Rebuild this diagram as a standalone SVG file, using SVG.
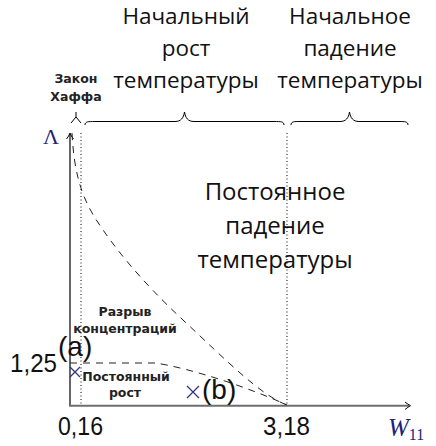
<svg xmlns="http://www.w3.org/2000/svg" width="436" height="446" viewBox="0 0 436 446">
<style>
.big{font-family:"Open Sans","Noto Sans",sans-serif;font-size:24px;fill:#111;text-anchor:middle}
.top{font-size:22.5px}
.small{font-family:"DejaVu Sans",sans-serif;font-size:12.5px;font-weight:bold;fill:#222;text-anchor:middle}
.num{font-family:"Liberation Sans",sans-serif;font-size:26px;fill:#111}
.pt{font-family:"Liberation Sans",sans-serif;font-size:28px;fill:#111}
.math{font-family:"Liberation Serif",serif;fill:#222277}
.dash{fill:none;stroke:#222;stroke-width:1;stroke-dasharray:7 6}
.dot{fill:none;stroke:#000;stroke-width:1;stroke-dasharray:1 2.5}
.brace{fill:none;stroke:#000;stroke-width:1}
.cross{stroke:#333388;stroke-width:1.3;fill:none}
.arr{fill:none;stroke:#000;stroke-width:1}
</style>
<g id="connectors">
  <line x1="81" y1="133" x2="81" y2="405" class="dot"/>
  <line x1="287" y1="133" x2="287" y2="405" class="dot"/>
  <line x1="70" y1="406" x2="70" y2="134" stroke="#000" stroke-width="1.2"/>
  <path class="arr" d="M66.5,139 Q69,136 70,133 Q71,136 73.5,139"/>
  <line x1="69" y1="405.7" x2="409" y2="405.7" stroke="#6e6e6e" stroke-width="2"/>
  <path class="arr" d="M405,402 Q408,404.5 410.5,405.7 Q408,407 405,409.5"/>
  <path class="dash" d="M72,133 C74,170 80,195 97,221 S140,280 183,320 S260,395 287,405"/>
  <path class="dash" d="M70,363 L155,363 C190,368 250,388 287,405"/>
  <path class="brace" d="M71,123 L76,117 L81,123 M76,117 L76,112"/>
  <path class="brace" d="M85,125 C85,121.5 88,121.5 95,121.5 L175,121.5 C181,121.5 183.5,118 184.5,112 C185.5,118 188,121.5 194,121.5 L274,121.5 C281,121.5 284,121.5 284,125"/>
  <path class="brace" d="M291,125 C291,121.5 294,121.5 300,121.5 L340,121.5 C346,121.5 348.5,118 349.5,112 C350.5,118 353,121.5 359,121.5 L399,121.5 C405,121.5 408,121.5 408,125"/>
</g>
<g id="top-left-label">
  <text class="big top" x="186" y="24">Начальный</text>
  <text class="big top" x="186" y="56">рост</text>
  <text class="big top" x="186" y="88">температуры</text>
</g>
<g id="top-right-label">
  <text class="big top" x="350" y="24">Начальное</text>
  <text class="big top" x="350" y="56">падение</text>
  <text class="big top" x="350" y="88">температуры</text>
</g>
<g id="haff-label">
  <text class="small" x="76" y="83">Закон</text>
  <text class="small" x="76" y="101">Хаффа</text>
</g>
<g id="middle-label">
  <text class="big" x="275" y="200">Постоянное</text>
  <text class="big" x="275" y="234">падение</text>
  <text class="big" x="275" y="268">температуры</text>
</g>
<g id="gap-label">
  <text class="small" x="125" y="316">Разрыв</text>
  <text class="small" x="125" y="333">концентраций</text>
</g>
<g id="growth-label">
  <text class="small" x="126" y="381">Постоянный</text>
  <text class="small" x="125" y="397">рост</text>
</g>
<g id="point-a">
  <path class="cross" d="M70,367 L80,377 M80,367 L70,377"/>
  <text class="pt" x="58" y="356">(a)</text>
</g>
<g id="point-b">
  <path class="cross" d="M187,386 L199,398 M199,386 L187,398"/>
  <text class="pt" x="202" y="399">(b)</text>
</g>
<g id="axis-labels">
  <text class="math" x="43" y="144" font-size="22">Λ</text>
  <text class="math" x="388" y="436" font-size="25" font-style="italic">W<tspan font-size="16" font-style="normal" dy="4">11</tspan></text>
  <text class="num" x="10" y="372" textLength="47" lengthAdjust="spacingAndGlyphs">1,25</text>
  <text class="num" x="58" y="435" textLength="45" lengthAdjust="spacingAndGlyphs">0,16</text>
  <text class="num" x="263" y="435" textLength="47" lengthAdjust="spacingAndGlyphs">3,18</text>
</g>
</svg>
